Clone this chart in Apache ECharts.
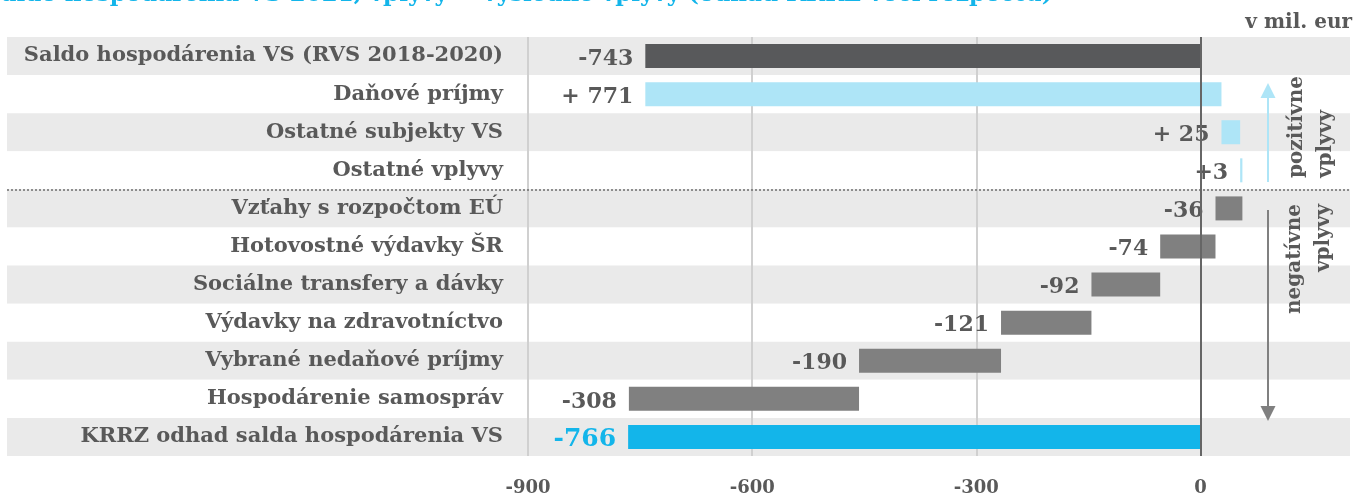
<!DOCTYPE html>
<html lang="sk">
<head>
    <meta charset="UTF-8">
    <title>Saldo hospodárenia VS</title>
    <style>
        html, body { margin: 0; padding: 0; background: #fff; }
    </style>
</head>
<body>
<div id="main" style="width: 1364px;height: 497px"></div>
<script src="https://cdn.jsdelivr.net/npm/echarts@6/dist/echarts.min.js"></script>
<script>
    var categories = [
        'Saldo hospodárenia VS (RVS 2018-2020)',
        'Daňové príjmy',
        'Ostatné subjekty VS',
        'Ostatné vplyvy',
        'Vzťahy s rozpočtom EÚ',
        'Hotovostné výdavky ŠR',
        'Sociálne transfery a dávky',
        'Výdavky na zdravotníctvo',
        'Vybrané nedaňové príjmy',
        'Hospodárenie samospráv',
        'KRRZ odhad salda hospodárenia VS'
    ];
    // prvy prvok je vychodiskove saldo, dalej vplyvy
    var changes = [-743, 771, 25, 3, -36, -74, -92, -121, -190, -308];
    var total = -766;
    var valueLabels = ['-743', '+ 771', '+ 25', '+3', '-36', '-74', '-92', '-121', '-190', '-308', '-766'];
    var xMin = -900, xMax = 200, xStep = 300;

    var FONT = '"DejaVu Serif", serif';
    var TXT = '#595959';
    var colStart = '#58595b', colPlus = '#aee5f7', colMinus = '#808080', colTotal = '#13b5ea';

    // waterfall: od - do
    var bars = [];
    var run = 0;
    for (var i = 0; i < changes.length; i++) {
        var from = i === 0 ? 0 : run;
        run = from + changes[i];
        var color = i === 0 ? colStart : (changes[i] > 0 ? colPlus : colMinus);
        bars.push({value: [i, from, run], itemColor: color, text: valueLabels[i]});
    }
    bars.push({value: [categories.length - 1, 0, total], itemColor: colTotal, text: valueLabels[categories.length - 1]});

    var container = document.getElementById('main');
    var myChart = echarts.init(container);

    var option = {
        animation: false,
        title: {
            text: 'Saldo hospodárenia VS 2021, vplyvy = výsledné vplyvy (odhad KRRZ voči rozpočtu)',
            left: -20,
            top: -21,
            textStyle: {
                color: '#13b5ea',
                fontFamily: FONT,
                fontWeight: 'bold',
                fontSize: 23
            }
        },
        grid: [
            {left: 7, right: 14, top: 37, bottom: 41},
            {left: 528, right: 14, top: 37, bottom: 41}
        ],
        xAxis: [
            {gridIndex: 0, type: 'value', min: 0, max: 1, show: false},
            {
                gridIndex: 1,
                type: 'value',
                min: xMin,
                max: xMax,
                interval: xStep,
                axisLine: {show: false},
                axisTick: {show: false},
                splitLine: {
                    show: true,
                    showMaxLine: false,
                    lineStyle: {color: '#d0d0d0', width: 2}
                },
                axisLabel: {
                    showMaxLabel: false,
                    margin: 23,
                    color: TXT,
                    fontFamily: FONT,
                    fontWeight: 'bold',
                    fontSize: 18
                }
            }
        ],
        yAxis: [
            {
                gridIndex: 0,
                type: 'value',
                min: 0,
                max: categories.length,
                interval: 1,
                inverse: true,
                show: true,
                axisLine: {show: false},
                axisTick: {show: false},
                axisLabel: {show: false},
                splitLine: {show: false},
                splitArea: {show: true, areaStyle: {color: ['#eaeaea', '#ffffff']}}
            },
            {
                gridIndex: 1,
                type: 'category',
                data: categories,
                inverse: true,
                axisLine: {show: false},
                axisTick: {show: false},
                splitLine: {show: false},
                axisLabel: {
                    margin: 25,
                    color: TXT,
                    fontFamily: FONT,
                    fontWeight: 'bold',
                    fontSize: 21
                }
            }
        ],
        series: [
            {
                type: 'line',
                xAxisIndex: 0,
                yAxisIndex: 0,
                data: [],
                markLine: {
                    silent: true,
                    symbol: 'none',
                    label: {show: false},
                    lineStyle: {color: '#6e6e6e', type: [2, 2], width: 1.5},
                    data: [{yAxis: 4}]
                }
            },
            {
                type: 'custom',
                xAxisIndex: 1,
                yAxisIndex: 1,
                data: bars,
                renderItem: function (params, api) {
                    var item = bars[params.dataIndex];
                    var a = api.value(1), b = api.value(2);
                    var p0 = api.coord([Math.min(a, b), api.value(0)]);
                    var p1 = api.coord([Math.max(a, b), api.value(0)]);
                    var h = 24;
                    var isTotal = params.dataIndex === bars.length - 1;
                    return {
                        type: 'group',
                        children: [
                            {
                                type: 'rect',
                                shape: {x: p0[0], y: p0[1] - h / 2, width: Math.max(p1[0] - p0[0], 1.5), height: h},
                                style: {fill: item.itemColor}
                            },
                            {
                                type: 'text',
                                style: {
                                    text: item.text,
                                    x: p0[0] - 12,
                                    y: p0[1] + 3,
                                    align: 'right',
                                    verticalAlign: 'middle',
                                    textAlign: 'right',
                                    textVerticalAlign: 'middle',
                                    font: 'bold ' + (isTotal ? 25 : 22) + 'px ' + FONT,
                                    fill: isTotal ? colTotal : TXT
                                }
                            }
                        ]
                    };
                },
                markLine: {
                    silent: true,
                    symbol: 'none',
                    label: {show: false},
                    lineStyle: {color: '#666666', type: 'solid', width: 2},
                    data: [{xAxis: 0}]
                },
                z: 3
            }
        ],
        graphic: [
            {
                type: 'text',
                right: 12,
                top: 13,
                z: 100,
                style: {
                    text: 'v mil. eur',
                    font: 'bold 20px ' + FONT,
                    fill: TXT
                }
            },
            {
                type: 'text',
                x: 1282,
                y: 178,
                z: 100,
                rotation: Math.PI / 2,
                style: {
                    text: 'pozitívne\nvplyvy',
                    font: 'bold 20px ' + FONT,
                    lineHeight: 29,
                    fill: TXT,
                    align: 'left',
                    verticalAlign: 'top',
                    textAlign: 'left',
                    textVerticalAlign: 'top'
                }
            },
            {
                type: 'text',
                x: 1280,
                y: 204,
                z: 100,
                rotation: Math.PI / 2,
                style: {
                    text: 'negatívne\nvplyvy',
                    font: 'bold 20px ' + FONT,
                    lineHeight: 29,
                    fill: TXT,
                    align: 'right',
                    verticalAlign: 'top',
                    textAlign: 'right',
                    textVerticalAlign: 'top'
                }
            },
            {
                type: 'line',
                z: 100,
                shape: {x1: 1268, y1: 182, x2: 1268, y2: 97},
                style: {stroke: colPlus, lineWidth: 2}
            },
            {
                type: 'polygon',
                z: 100,
                shape: {points: [[1268, 83], [1260.5, 98], [1275.5, 98]]},
                style: {fill: colPlus}
            },
            {
                type: 'line',
                z: 100,
                shape: {x1: 1268, y1: 210, x2: 1268, y2: 408},
                style: {stroke: colMinus, lineWidth: 2}
            },
            {
                type: 'polygon',
                z: 100,
                shape: {points: [[1268, 421], [1260.5, 406], [1275.5, 406]]},
                style: {fill: colMinus}
            }
        ]
    };

    myChart.setOption(option);
</script>
</body>
</html>
